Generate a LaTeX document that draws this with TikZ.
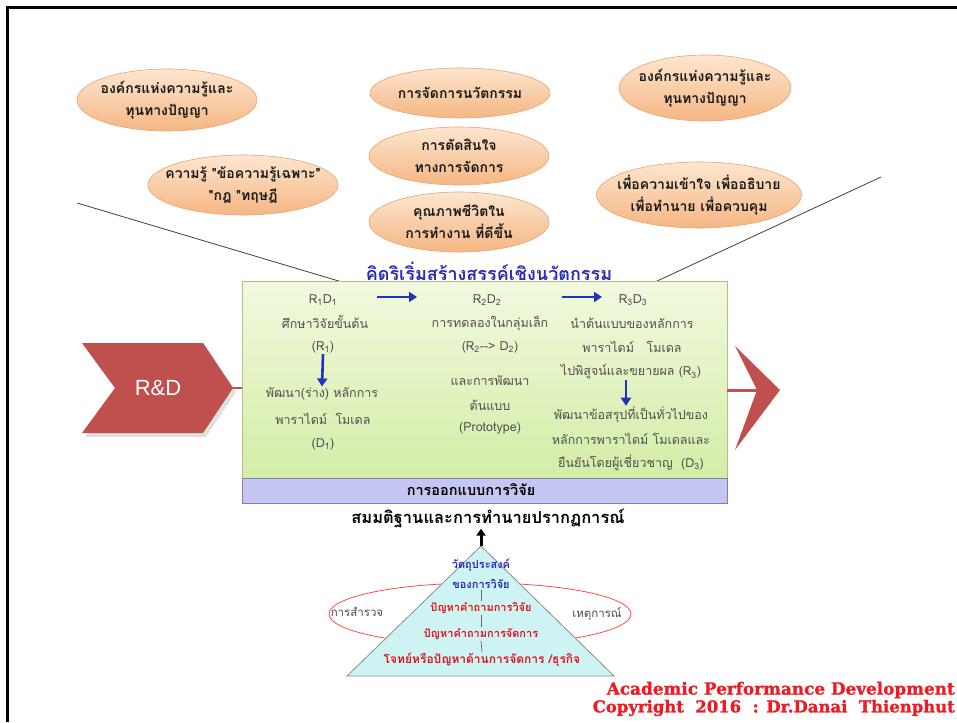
\documentclass[tikz,border=0pt]{standalone}
\usepackage{fontspec}
\usepackage{graphicx}
\newfontfamily\thai[Script=Thai]{Loma}
\newfontfamily\lsans{Liberation Sans}
\newfontfamily\cpfont[FakeBold=1.2]{DejaVu Serif Bold}
\usetikzlibrary{shapes.geometric,arrows.meta}
\definecolor{ovaltop}{HTML}{FDE6CF}
\definecolor{ovalbot}{HTML}{F5B683}
\definecolor{ovalline}{HTML}{E8A474}
\definecolor{gtop}{HTML}{F2F9DF}
\definecolor{gbot}{HTML}{D3EDA6}
\definecolor{gline}{HTML}{A9C585}
\definecolor{pfill}{HTML}{C6C6F2}
\definecolor{pline}{HTML}{7F7FA8}
\definecolor{trifill}{HTML}{CDF3F3}
\definecolor{rdred}{HTML}{C0504D}
\definecolor{arblue}{HTML}{2233BB}
\definecolor{ttblue}{HTML}{2A2AB8}
\definecolor{txred}{HTML}{E0141E}
\definecolor{cpred}{HTML}{EC1C24}
\definecolor{coltext}{HTML}{505050}
\begin{document}
\begin{tikzpicture}[x=1pt,y=-1pt,
  oval/.style={ellipse, draw=ovalline, line width=0.6pt, top color=ovaltop, bottom color=ovalbot, inner sep=0pt},
  ovaltxt/.style={align=center, inner sep=0pt, text=black!90, font=\thai\bfseries\fontsize{14}{22}\selectfont},
  coltxt/.style={font=\thai\fontsize{12.5}{14}\selectfont, text=coltext, inner sep=1pt},
  tritxt/.style={font=\thai\bfseries\fontsize{11}{13}\selectfont, inner sep=1pt},
  bluearr/.style={draw=arblue, line width=2.6pt, -{Triangle[length=8pt,width=10pt]}},
  thinline/.style={draw=black!75, line width=0.8pt},
  stemline/.style={draw=black!60, line width=0.7pt}]
\useasboundingbox (0,0) rectangle (957,722);
\fill[white] (0,0) rectangle (957,722);
% frame
\draw[line width=3pt] (7,722) -- (7,8) -- (957,8);

% diagonal lines
\coordinate (dl1) at (77,203);
\coordinate (dl2) at (342,282);
\coordinate (dr1) at (881,177);
\coordinate (dr2) at (655,282);
\draw[thinline] (dl1) -- (dl2);
\draw[thinline] (dr1) -- (dr2);

% ovals
\node[oval, minimum width=180pt, minimum height=62pt] (o1) at (167,100) {};
\node[ovaltxt] (o1t) at (o1) {องค์กรแห่งความรู้และ\\ทุนทางปัญญา};
\node[oval, minimum width=190pt, minimum height=60pt] (o2) at (243,185) {};
\node[ovaltxt] (o2t) at (o2) {ความรู้ "ข้อความรู้เฉพาะ"\\"กฎ "ทฤษฎี};
\node[oval, minimum width=180pt, minimum height=50pt] (o3) at (460,93) {};
\node[ovaltxt] (o3t) at (o3) {การจัดการนวัตกรรม};
\node[oval, minimum width=180pt, minimum height=58pt] (o4) at (459,156) {};
\node[ovaltxt] (o4t) at (o4) {การตัดสินใจ\\ทางการจัดการ};
\node[oval, minimum width=180pt, minimum height=60pt] (o5) at (459,222) {};
\node[ovaltxt] (o5t) at (o5) {คุณภาพชีวิตใน\\การทำงาน ที่ดีขึ้น};
\node[oval, minimum width=172pt, minimum height=66pt] (o6) at (705,88) {};
\node[ovaltxt] (o6t) at (o6) {องค์กรแห่งความรู้และ\\ทุนทางปัญญา};
\node[oval, minimum width=205pt, minimum height=66pt] (o7) at (699,195) {};
\node[ovaltxt] (o7t) at (o7) {เพื่อความเข้าใจ เพื่ออธิบาย\\เพื่อทำนาย เพื่อควบคุม};

% title
\node[font=\thai\bfseries\fontsize{18}{20}\selectfont, text=ttblue, inner sep=0pt] (title) at (489,271) {คิดริเริ่มสร้างสรรค์เชิงนวัตกรรม};

% green box and purple bar
\node[draw=gline, line width=0.8pt, top color=gtop, bottom color=gbot, minimum width=485pt, minimum height=197pt, inner sep=0pt] (gb) at (484.5,379.5) {};
\node[draw=pline, line width=0.8pt, fill=pfill, minimum width=485pt, minimum height=25pt, inner sep=0pt] (pb) at (484.5,490.5) {};
\node[font=\thai\bfseries\fontsize{14.5}{16}\selectfont, inner sep=0pt] (pbt) at (471,490) {การออกแบบการวิจัย};

% R&D chevron
\fill[black!12] (85,347) -- (206,347) -- (236,392) -- (206,437) -- (85,437) -- (118,392) -- cycle;
\fill[rdred] (82,343) -- (203,343) -- (233,388) -- (203,433) -- (82,433) -- (115,388) -- cycle;
\coordinate (rdtip) at (233,388);
\node[font=\lsans\fontsize{22}{24}\selectfont, text=white] (rd) at (158,388) {R\&D};
\draw[draw=rdred, line width=2pt] (rdtip) -- (gb.west |- rdtip);

% right arrowhead
\coordinate (ranotch) at (757,390);
\fill[rdred] (735,346) -- (780,390) -- (735,450) -- (ranotch) -- cycle;
\draw[draw=rdred, line width=3pt] (gb.east |- ranotch) -- (ranotch);

% column 1
\node[coltxt] (c1a) at (323,300) {R\textsubscript{1}D\textsubscript{1}};
\node[coltxt] (c1b) at (325,322) {ศึกษาวิจัยขั้นต้น};
\node[coltxt] (c1c) at (323,347) {(R\textsubscript{1})};
\node[coltxt] (c1d) at (322,394) {พัฒนา(ร่าง) หลักการ};
\node[coltxt] (c1e) at (323,419) {พาราไดม์ \ โมเดล};
\node[coltxt] (c1f) at (323,444) {(D\textsubscript{1})};
\draw[bluearr] (c1c.south) -- (c1d.north);

% column 2
\node[coltxt] (c2a) at (487,300) {R\textsubscript{2}D\textsubscript{2}};
\node[coltxt] (c2b) at (490,323) {การทดลองในกลุ่มเล็ก};
\node[coltxt] (c2c) at (490,347) {(R\textsubscript{2}-{}-> D\textsubscript{2})};
\node[coltxt] (c2d) at (490,381) {และการพัฒนา};
\node[coltxt] (c2e) at (490,405) {ต้นแบบ};
\node[coltxt] (c2f) at (490,428) {(Prototype)};

% column 3
\node[coltxt] (c3a) at (633,300) {R\textsubscript{3}D\textsubscript{3}};
\node[coltxt] (c3b) at (632,323) {นำต้นแบบของหลักการ};
\node[coltxt] (c3c) at (632,347) {พาราไดม์ \ \ โมเดล};
\node[coltxt] (c3d) at (631,372) {ไปพิสูจน์และขยายผล (R\textsubscript{3})};
\node[coltxt] (c3e) at (631,415) {พัฒนาข้อสรุปที่เป็นทั่วไปของ};
\node[coltxt] (c3f) at (631,439) {หลักการพาราไดม์ โมเดลและ};
\node[coltxt] (c3g) at (631,463) {ยืนยันโดยผู้เชี่ยวชาญ \ (D\textsubscript{3})};
\draw[bluearr] ([xshift=-5pt]c3d.south) -- ([xshift=-5pt]c3e.north);

% horizontal blue arrows
\coordinate (h1s) at (377,297);
\coordinate (h1e) at (417,297);
\coordinate (h2s) at (562,297);
\coordinate (h2e) at (602,297);
\draw[bluearr] (h1s) -- (h1e);
\draw[bluearr] (h2s) -- (h2e);

% hypothesis
\node[font=\thai\bfseries\fontsize{16.5}{18}\selectfont, inner sep=1pt] (hyp) at (488,518) {สมมติฐานและการทำนายปรากฏการณ์};

% environment ellipse and triangle
\node[ellipse, draw=red!70, line width=0.8pt, minimum width=302pt, minimum height=62pt, inner sep=0pt] (env) at (480,614) {};
\coordinate (tA) at (481,546);
\coordinate (tL) at (347,676);
\coordinate (tR) at (614,676);
\filldraw[fill=trifill, draw=black!45, line width=0.8pt] (tA) -- (tR) -- (tL) -- cycle;
\draw[line width=3pt, -{Triangle[length=7pt,width=9pt]}] (tA) -- (hyp.south -| tA);

\node[font=\thai\fontsize{11.5}{13}\selectfont, text=black!70] (sv) at (357,612) {การสำรวจ};
\node[font=\thai\fontsize{11.5}{13}\selectfont, text=black!70] (ev) at (597,614) {เหตุการณ์};

\node[tritxt, text=ttblue] (t1) at (481,565) {วัตถุประสงค์};
\node[tritxt, text=ttblue] (t2) at (481,584) {ของการวิจัย};
\node[tritxt, text=txred] (t3) at (481,608) {ปัญหาคำถามการวิจัย};
\node[tritxt, text=txred] (t4) at (481,634) {ปัญหาคำถามการจัดการ};
\node[tritxt, text=txred, font=\thai\bfseries\fontsize{12}{13}\selectfont] (t5) at (482,660) {โจทย์หรือปัญหาด้านการจัดการ /ธุรกิจ};
\draw[stemline] (t2.south) -- (t3.north);
\draw[stemline] (t3.south) -- (t4.north);
\draw[stemline] (t4.south) -- (t5.north);

% copyright
\node[anchor=east, inner sep=0pt, text=cpred] (cp1) at (955,690) {\resizebox{348pt}{!}{\cpfont Academic Performance Development}};
\node[anchor=east, inner sep=0pt, text=cpred] (cp2) at (955,708) {\resizebox{362pt}{!}{\cpfont Copyright \ 2016 \ : Dr.Danai \ Thienphut}};
\end{tikzpicture}
\end{document}
